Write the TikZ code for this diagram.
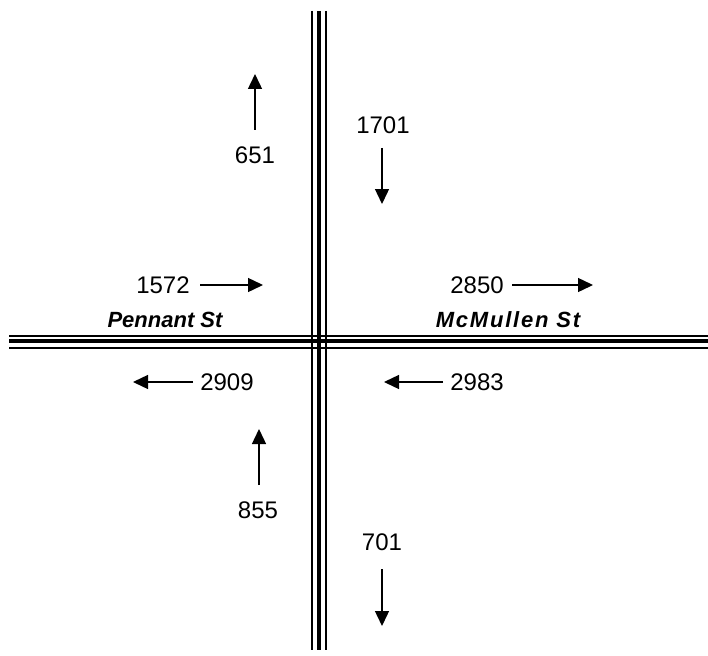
\documentclass[tikz,border=0pt]{standalone}
\usepackage{fontspec}
\setmainfont{Liberation Sans}
\usetikzlibrary{arrows.meta}

\begin{document}
\begin{tikzpicture}[x=1pt,y=-1pt,
  flow/.style={line width=1.4pt,-{Triangle[length=15pt,width=14pt]}},
  count/.style={font=\fontsize{24}{24}\selectfont,inner sep=0pt},
  street/.style={font=\fontsize{22}{22}\selectfont\bfseries\itshape,inner sep=0pt}]
  \useasboundingbox (0,0) rectangle (708,655);
  % Pennant St / McMullen St
  \draw[line width=2pt] (9,335.5) -- (708,335.5);
  \draw[line width=4.5pt] (9,341) -- (708,341);
  \draw[line width=2pt] (9,347.5) -- (708,347.5);
  % cross street
  \draw[line width=2pt] (312,11) -- (312,650);
  \draw[line width=4.5pt] (319,11) -- (319,650);
  \draw[line width=2pt] (325.5,11) -- (325.5,650);
  % north approach
  \draw[flow] (255,130) -- (255,74);
  \node[count] (n651) at (255,155) {651};
  \node[count] (n1701) at (383,125) {1701};
  \draw[flow] (382,148) -- (382,204);
  % west and east
  \node[count] (n1572) at (163,285) {1572};
  \draw[flow] (200,285) -- (263,285);
  \node[street] (pennant) at (165,320) {Pennant St};
  \node[count] (n2850) at (477,285) {2850};
  \draw[flow] (512,285) -- (593,285);
  \node[street] (mcmullen) at (508,320) {\addfontfeatures{LetterSpace=8}McMullen St};
  \node[count] (n2909) at (227,382) {2909};
  \draw[flow] (193,382) -- (133,382);
  \node[count] (n2983) at (477,382) {2983};
  \draw[flow] (443,382) -- (384,382);
  % south approach
  \draw[flow] (259,485) -- (259,429);
  \node[count] (n855) at (258,510) {855};
  \node[count] (n701) at (382,542) {701};
  \draw[flow] (382,569) -- (382,626);
\end{tikzpicture}
\end{document}
